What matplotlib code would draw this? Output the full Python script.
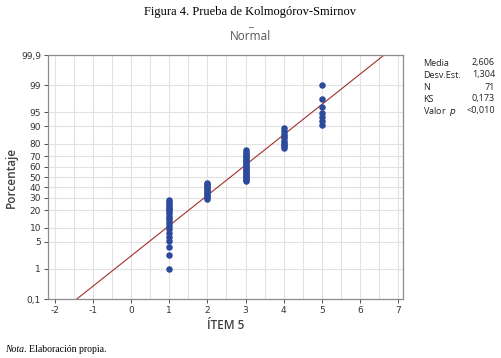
import matplotlib
matplotlib.use("Agg")
import matplotlib.pyplot as plt
import numpy as np
from statistics import NormalDist

plt.rcParams["axes.unicode_minus"] = False

# datos: ÍTEM 5 (escala 1-5), n = 71
valores = [1, 2, 3, 4, 5]
frecuencias = [20, 12, 22, 10, 7]
media = 2.606
desv = 1.304
n = 71
ks = "0,173"
valor_p = "<0,010"

ticks_pct = [0.1, 1, 5, 10, 20, 30, 40, 50, 60, 70, 80, 90, 95, 99, 99.9]
etiq_pct = ["0,1", "1", "5", "10", "20", "30", "40", "50", "60", "70",
            "80", "90", "95", "99", "99,9"]
ticks_x = [-2, -1, 0, 1, 2, 3, 4, 5, 6, 7]

nd = NormalDist()
_inv_cdf = np.vectorize(nd.inv_cdf, otypes=[float])
_cdf = np.vectorize(nd.cdf, otypes=[float])


def fwd(p):
    p = np.clip(np.asarray(p, dtype=float) / 100.0, 1e-9, 1 - 1e-9)
    return _inv_cdf(p)


def inv(z):
    return _cdf(np.asarray(z, dtype=float)) * 100.0


# posiciones de rango mediano (i - 0.3) / (n + 0.4)
xs, ps = [], []
cum = 0
for v, f in zip(valores, frecuencias):
    for i in range(cum + 1, cum + f + 1):
        xs.append(v)
        ps.append((i - 0.3) / (n + 0.4) * 100)
    cum += f

fig = plt.figure(figsize=(5.01, 3.58), dpi=100)
ax = fig.add_axes([48 / 501, 1 - 299 / 358, (403 - 48) / 501, (299 - 55) / 358])
ax.set_yscale("function", functions=(fwd, inv))

xl = np.linspace(-2.2, 7.2, 200)
pl = np.array([nd.cdf((x - media) / desv) * 100 for x in xl])
ax.plot(xl, pl, color="#A0302A", lw=0.8, zorder=2)
ax.scatter(xs, ps, s=22, color="#2D4A9C", zorder=3, linewidths=0)

ax.set_xlim(-2.18, 7.13)
ax.set_ylim(0.1, 99.9)
ax.set_yticks(ticks_pct)
ax.set_yticklabels(etiq_pct)
ax.set_xticks(ticks_x)
ax.set_xticks(np.arange(-1.5, 7, 1.0), minor=True)
ax.yaxis.set_minor_locator(matplotlib.ticker.NullLocator())
ax.grid(True, which="both", color="#E2E2E2", lw=0.8, zorder=0)
ax.set_axisbelow(True)
ax.tick_params(axis="both", which="major", labelsize=6.5, colors="#333333",
               length=3, width=0.6, pad=2)
ax.tick_params(axis="x", which="minor", length=0)
for s in ax.spines.values():
    s.set_color("#8C8C8C")
    s.set_linewidth(0.9)

ax.set_ylabel("Porcentaje", fontsize=8.5, color="#404040", family="Open Sans",
              fontweight="semibold", labelpad=2)
ax.set_xlabel("ÍTEM 5", fontsize=8.5, color="#404040", family="Open Sans",
              fontweight="semibold", labelpad=3)

fig.text(0.5, 1 - 12 / 358, "Figura 4. Prueba de Kolmogórov-Smirnov",
         ha="center", va="center", family="Liberation Serif", fontsize=9)
fig.text(0.5, 1 - 24 / 358, "_", ha="center", va="center", fontsize=8,
         color="#555555", family="Open Sans")
fig.text(0.5, 1 - 36 / 358, "Normal", ha="center", va="center", fontsize=8.5,
         color="#555555", family="Open Sans")

nombres = ["Media", "Desv.Est.", "N", "KS", "Valor  $p$"]
cifras = [f"{media:.3f}".replace(".", ","), f"{desv:.3f}".replace(".", ","),
          str(n), ks, valor_p]
for k, (nm, cf) in enumerate(zip(nombres, cifras)):
    y = 1 - (63 + 12 * k) / 358
    fig.text(423 / 501, y, nm, ha="left", va="center", fontsize=6.5,
             family="Open Sans", color="#222222")
    fig.text(495 / 501, y, cf, ha="right", va="center", fontsize=6.5,
             family="Open Sans", color="#222222")

t1 = fig.text(5 / 501, 1 - 350 / 358, "Nota", ha="left", va="center",
              family="Liberation Serif", style="italic", fontsize=7)
fig.canvas.draw()
bb = t1.get_window_extent()
fig.text(bb.x1 / 501, 1 - 350 / 358, ". Elaboración propia.", ha="left",
         va="center", family="Liberation Serif", fontsize=7)

fig.savefig("out.png", dpi=100)
